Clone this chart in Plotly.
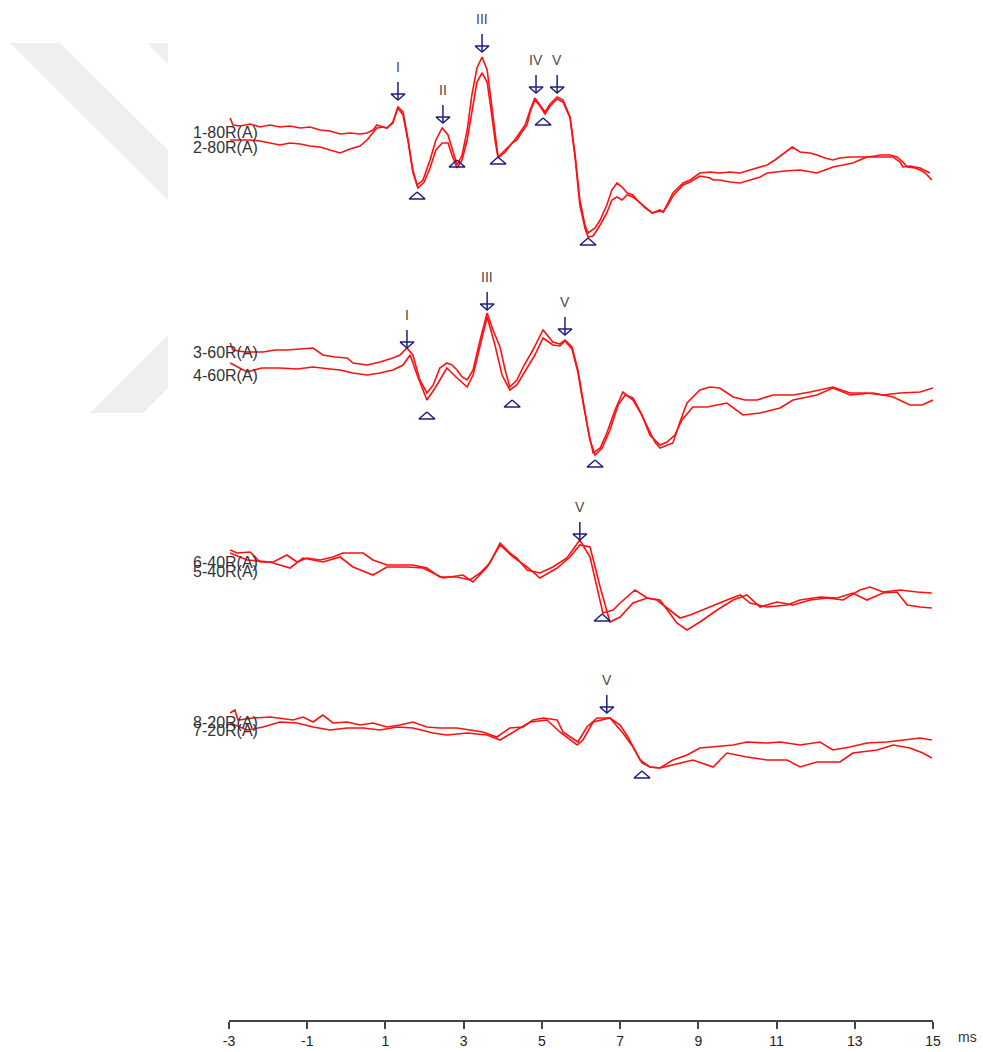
import plotly.graph_objects as go

# ---------------------------------------------------------------
# ABR recordings: latency (ms), amplitude (display units, + = up)
# ---------------------------------------------------------------
R1_A = [(-2.97, 17), (-2.90, 10), (-2.72, 9), (-2.46, 11), (-2.21, 8), (-1.95, 10), (-1.70, 8),
        (-1.44, 9), (-1.18, 7), (-0.93, 8), (-0.67, 5), (-0.42, 4), (-0.16, 1), (0.09, 2), (0.35, 1),
        (0.53, 2), (0.68, 5), (0.78, 10), (0.94, 8), (1.04, 7), (1.19, 12), (1.32, 28), (1.45, 23),
        (1.58, -5), (1.70, -35), (1.81, -50), (1.96, -45), (2.14, -25), (2.29, -5), (2.45, 7),
        (2.60, 0), (2.73, -17), (2.83, -30), (2.96, -20), (3.09, 5), (3.21, 40), (3.34, 67),
        (3.47, 78), (3.60, 65), (3.70, 35), (3.80, 0), (3.88, -22), (4.06, -15), (4.24, -8),
        (4.36, -2), (4.57, 10), (4.70, 25), (4.82, 37), (4.95, 30), (5.08, 23), (5.21, 31),
        (5.39, 38), (5.54, 35), (5.72, 18), (5.85, -20), (5.97, -65), (6.10, -90), (6.18, -98),
        (6.36, -93), (6.49, -85), (6.66, -70), (6.79, -55), (6.92, -48), (7.05, -52), (7.18, -58),
        (7.33, -60), (7.43, -65), (7.64, -72), (7.82, -78), (8.02, -75), (8.10, -77), (8.22, -68),
        (8.35, -58), (8.53, -51), (8.61, -48), (8.79, -45), (9.04, -38), (9.30, -37), (9.55, -38),
        (9.81, -37), (10.07, -38), (10.32, -35), (10.58, -32), (10.76, -30), (10.96, -25),
        (11.22, -17), (11.40, -12), (11.60, -17), (11.86, -18), (12.03, -20), (12.24, -23),
        (12.44, -25), (12.62, -23), (12.88, -22), (13.13, -22), (13.31, -22), (13.52, -21),
        (13.65, -20), (13.90, -20), (14.08, -22), (14.23, -27), (14.34, -32), (14.54, -33),
        (14.67, -35), (14.80, -38), (14.97, -45)]

R1_B = [(-2.97, -5), (-2.72, -5), (-2.46, -5), (-2.21, -6), (-1.95, -8), (-1.70, -10), (-1.44, -8),
        (-1.18, -9), (-0.93, -11), (-0.67, -12), (-0.42, -15), (-0.16, -18), (0.09, -14), (0.35, -11),
        (0.53, -5), (0.68, 2), (0.78, 7), (0.94, 8), (1.04, 7), (1.19, 13), (1.32, 27), (1.45, 20),
        (1.58, -7), (1.70, -37), (1.83, -53), (1.99, -47), (2.14, -33), (2.29, -15), (2.45, -8),
        (2.60, -8), (2.70, -20), (2.83, -33), (2.96, -25), (3.09, -5), (3.21, 25), (3.34, 53),
        (3.47, 62), (3.60, 53), (3.70, 25), (3.80, -5), (3.88, -23), (4.06, -17), (4.24, -8),
        (4.36, -5), (4.49, 3), (4.62, 10), (4.70, 23), (4.82, 35), (4.95, 29), (5.08, 21),
        (5.21, 29), (5.39, 36), (5.54, 33), (5.72, 17), (5.85, -23), (5.97, -70), (6.10, -93),
        (6.18, -102), (6.31, -101), (6.49, -90), (6.66, -78), (6.79, -65), (6.92, -62), (7.05, -65),
        (7.18, -60), (7.33, -62), (7.43, -65), (7.64, -73), (7.82, -78), (8.02, -76), (8.10, -77),
        (8.22, -70), (8.35, -61), (8.53, -53), (8.61, -50), (8.79, -47), (9.04, -41), (9.30, -43),
        (9.38, -45), (9.55, -45), (9.81, -47), (10.07, -48), (10.32, -45), (10.58, -42),
        (10.76, -38), (10.96, -37), (11.22, -36), (11.60, -35), (11.86, -37), (12.03, -38),
        (12.24, -35), (12.44, -32), (12.70, -30), (12.95, -28), (13.13, -25), (13.31, -22),
        (13.65, -22), (13.98, -22), (14.16, -27), (14.23, -32), (14.41, -31), (14.67, -33),
        (14.92, -38)]

R2_A = [(-2.97, 17), (-2.90, 10), (-2.59, 8), (-2.13, 8), (-1.82, 10), (-1.52, 10), (-1.18, 11),
        (-0.85, 12), (-0.60, 5), (-0.29, 3), (0.02, 2), (0.17, -3), (0.53, -5), (0.86, -2),
        (1.19, 2), (1.37, 5), (1.55, 12), (1.70, 5), (1.88, -20), (2.06, -33), (2.22, -25),
        (2.39, -8), (2.57, -3), (2.70, -5), (2.83, -10), (2.96, -17), (3.09, -20), (3.24, -10),
        (3.42, 20), (3.60, 47), (3.75, 30), (3.93, 13), (4.06, -10), (4.18, -27), (4.36, -20),
        (4.52, -7), (4.77, 10), (5.03, 30), (5.28, 18), (5.46, 16), (5.59, 20), (5.77, 13),
        (5.92, -10), (6.05, -40), (6.18, -70), (6.31, -93), (6.49, -88), (6.66, -73), (6.87, -50),
        (7.07, -32), (7.33, -40), (7.51, -52), (7.69, -67), (7.89, -82), (8.02, -88), (8.20, -85),
        (8.35, -83), (8.53, -62), (8.71, -43), (9.04, -30), (9.30, -27), (9.55, -28), (9.89, -37),
        (10.19, -40), (10.50, -40), (10.91, -35), (11.42, -35), (11.86, -32), (12.44, -27),
        (12.88, -33), (13.31, -33), (13.72, -35), (14.16, -33), (14.67, -32), (15.00, -28)]

R2_B = [(-2.97, -3), (-2.54, -12), (-2.16, -8), (-1.70, -8), (-1.26, -9), (-0.85, -7), (-0.42, -9),
        (-0.16, -10), (0.17, -13), (0.53, -15), (0.86, -13), (1.19, -10), (1.45, -5), (1.63, 5),
        (1.81, -15), (2.06, -40), (2.27, -28), (2.57, -8), (2.83, -18), (3.09, -27), (3.24, -15),
        (3.42, 15), (3.60, 43), (3.80, 15), (3.98, -15), (4.18, -30), (4.36, -25), (4.62, -8),
        (4.82, 5), (5.03, 22), (5.28, 15), (5.46, 14), (5.59, 19), (5.77, 11), (5.92, -12),
        (6.05, -42), (6.23, -80), (6.36, -95), (6.54, -88), (6.74, -70), (6.95, -45), (7.13, -35),
        (7.33, -38), (7.56, -55), (7.76, -75), (8.02, -85), (8.20, -82), (8.40, -75), (8.58, -60),
        (8.86, -47), (9.22, -47), (9.73, -43), (10.14, -55), (10.58, -53), (11.09, -48),
        (11.42, -40), (12.03, -35), (12.44, -28), (12.88, -35), (13.47, -33), (13.98, -37),
        (14.41, -45), (14.72, -45), (15.00, -40)]

R3_A = [(-2.97, 15), (-2.80, 12), (-2.46, 13), (-2.21, 3), (-1.87, 3), (-1.52, 10), (-1.26, 3),
        (-1.01, 7), (-0.67, 5), (-0.34, 8), (-0.09, 12), (0.17, 12), (0.43, 12), (0.68, 5),
        (1.04, 0), (1.37, 0), (1.70, 0), (2.06, -3), (2.39, -12), (2.83, -12), (3.16, -15),
        (3.42, -8), (3.67, 2), (3.93, 22), (4.18, 12), (4.36, 7), (4.62, -5), (4.95, -8),
        (5.28, -2), (5.64, 7), (5.85, 18), (5.97, 25), (6.23, 8), (6.41, -22), (6.56, -48),
        (6.82, -45), (7.00, -38), (7.38, -25), (7.69, -33), (8.02, -35), (8.20, -45), (8.45, -58),
        (8.71, -65), (9.04, -57), (9.48, -45), (9.89, -35), (10.24, -30), (10.58, -42),
        (11.01, -37), (11.42, -40), (11.86, -35), (12.29, -33), (12.70, -35), (13.13, -25),
        (13.39, -22), (13.72, -27), (14.16, -25), (14.59, -27), (14.97, -28)]

R3_B = [(-2.97, 12), (-2.54, 5), (-1.95, 3), (-1.44, -3), (-1.11, 7), (-0.60, 3), (-0.16, 8),
        (0.17, -2), (0.68, -10), (1.04, -2), (1.55, -2), (1.96, -3), (2.47, -13), (2.98, -10),
        (3.24, -17), (3.60, -2), (3.93, 20), (4.26, 8), (4.62, -2), (4.95, -13), (5.39, -3),
        (5.72, 8), (5.97, 20), (6.23, 18), (6.49, -22), (6.74, -57), (7.00, -52), (7.33, -38),
        (7.69, -33), (7.94, -35), (8.20, -43), (8.53, -53), (8.79, -50), (9.22, -43), (9.73, -35),
        (10.07, -30), (10.32, -38), (10.76, -42), (11.27, -40), (11.60, -35), (12.11, -32),
        (12.55, -33), (12.95, -28), (13.31, -35), (13.72, -28), (14.08, -27), (14.34, -40),
        (14.67, -42), (14.97, -43)]

R4_A = [(-2.97, 12), (-2.85, 15), (-2.77, 5), (-2.39, 7), (-1.95, 8), (-1.70, 7), (-1.36, 5),
        (-1.11, 8), (-0.85, 3), (-0.60, 10), (-0.34, 2), (0.02, 3), (0.35, 0), (0.68, 2),
        (1.04, -2), (1.37, 0), (1.70, 3), (2.06, -2), (2.39, -3), (2.83, -3), (3.16, -5),
        (3.49, -7), (3.85, -12), (4.18, -3), (4.52, -2), (4.77, 5), (5.03, 7), (5.39, 5),
        (5.54, -7), (5.72, -12), (5.92, -17), (6.15, -2), (6.41, 7), (6.74, 7), (7.00, 0),
        (7.20, -12), (7.38, -25), (7.51, -35), (7.76, -42), (8.02, -43), (8.35, -35), (8.71, -30),
        (9.04, -23), (9.38, -22), (9.89, -20), (10.24, -17), (10.76, -18), (11.09, -17),
        (11.60, -20), (12.11, -17), (12.44, -25), (12.88, -22), (13.31, -18), (13.82, -17),
        (14.34, -15), (14.67, -13), (14.97, -15)]

R4_B = [(-2.97, 2), (-2.54, -5), (-2.13, -2), (-1.70, 3), (-1.26, 2), (-0.85, -2), (-0.42, -5),
        (0.02, -3), (0.43, -3), (0.86, -5), (1.30, -2), (1.70, -3), (2.22, -8), (2.57, -10),
        (3.09, -8), (3.60, -10), (3.93, -15), (4.26, -7), (4.70, 3), (5.13, 5), (5.46, -7),
        (5.90, -20), (6.05, -15), (6.31, 3), (6.74, 7), (7.07, -8), (7.33, -22), (7.56, -38),
        (7.76, -42), (8.02, -43), (8.35, -40), (8.86, -35), (9.38, -42), (9.73, -28), (10.24, -32),
        (10.76, -35), (11.27, -35), (11.60, -42), (12.03, -37), (12.62, -37), (12.95, -28),
        (13.57, -25), (13.98, -20), (14.41, -23), (14.74, -28), (14.97, -33)]

# Wave peaks (name, latency, amplitude) and troughs (latency, amplitude)
R1_PEAKS = [("I", 1.32, 35), ("II", 2.47, 12), ("III", 3.47, 83), ("IV", 4.85, 42), ("V", 5.39, 42)]
R1_TROUGHS = [(1.81, -57), (2.83, -25), (3.88, -22), (5.03, 17), (6.18, -103)]
R2_PEAKS = [("I", 1.55, 12), ("III", 3.60, 50), ("V", 5.59, 25)]
R2_TROUGHS = [(2.06, -52), (4.24, -40), (6.36, -100)]
R3_PEAKS = [("V", 5.97, 25)]
R3_TROUGHS = [(6.54, -49)]
R4_PEAKS = [("V", 6.66, 12)]
R4_TROUGHS = [(7.56, -46)]

TRACE_NAMES = [("1-80R(A)", "2-80R(A)"), ("3-60R(A)", "4-60R(A)"),
               ("6-40R(A)", "5-40R(A)"), ("8-20R(A)", "7-20R(A)")]

X_TICKS = [-3, -1, 1, 3, 5, 7, 9, 11, 13, 15]

# ---------------------------------------------------------------
# Layout helpers
# ---------------------------------------------------------------
W, H = 983, 1052
ML, MR, MT, MB = 229, 50, 0, 32
PLOT_W = W - ML - MR
PLOT_H = H - MT - MB
X0, X1 = -3, 15
PX_PER_MS = PLOT_W / (X1 - X0)

ROW_OFFSETS = [135, 360, 565, 725]          # vertical slot of each row (display units)
LABEL_DY = [(3, -12), (8, -15), (3, -6), (3, -5)]

WAVE_RED = "#ff1010"
MARK_BLUE = "#1e1e80"

rows = [
    (R1_A, R1_B, R1_PEAKS, R1_TROUGHS),
    (R2_A, R2_B, R2_PEAKS, R2_TROUGHS),
    (R3_A, R3_B, R3_PEAKS, R3_TROUGHS),
    (R4_A, R4_B, R4_PEAKS, R4_TROUGHS),
]

fig = go.Figure()
annotations = []


def dx(px):
    return px / PX_PER_MS


for r, (wa, wb, peaks, troughs) in enumerate(rows):
    off = ROW_OFFSETS[r]
    for wave in (wa, wb):
        fig.add_trace(go.Scatter(
            x=[p[0] for p in wave], y=[p[1] - off for p in wave],
            mode="lines", line=dict(color=WAVE_RED, width=1.6),
            hoverinfo="skip", showlegend=False))

    # peak arrows: stem + downward open triangle
    ax, ay = [], []
    for name, lat, amp in peaks:
        tip = amp - off
        ax += [lat, lat, None, lat - dx(7), lat + dx(7), lat, lat - dx(7), None]
        ay += [tip + 18, tip, None, tip + 6, tip + 6, tip, tip + 6, None]
        annotations.append(dict(x=lat, y=tip + 33, text=name, showarrow=False,
                                xanchor="center", yanchor="middle",
                                font=dict(family="Arial", size=14, color="#4a4a4a")))
    # trough markers: upward open triangle
    for lat, amp in troughs:
        top = amp - off
        ax += [lat, lat + dx(8), lat - dx(8), lat, None]
        ay += [top, top - 7, top - 7, top, None]
    fig.add_trace(go.Scatter(x=ax, y=ay, mode="lines",
                             line=dict(color=MARK_BLUE, width=1.5),
                             hoverinfo="skip", showlegend=False))

    # recording names at the left of each row
    for k in range(2):
        annotations.append(dict(x=X0, y=LABEL_DY[r][k] - off, text=TRACE_NAMES[r][k],
                                showarrow=False, xanchor="left", yanchor="middle", xshift=-38,
                                font=dict(family="Arial", size=16, color="#333333")))

annotations.append(dict(x=X1, y=0, yref="paper", text="ms", showarrow=False,
                        xanchor="center", yanchor="middle", xshift=34, yshift=-17,
                        font=dict(family="Arial", size=14, color="#333333")))


# faint background chevron
def to_paper(px, py):
    return (px - ML) / PLOT_W, (H - MB - py) / PLOT_H


def poly(points):
    pts = [to_paper(*p) for p in points]
    return "M " + " L ".join(f"{x:.4f},{y:.4f}" for x, y in pts) + " Z"


bg_shapes = []
for pts in ([(10, 43), (60, 43), (168, 150), (168, 200)],
            [(147, 43), (168, 43), (168, 64)],
            [(90, 413), (143, 413), (168, 388), (168, 335)]):
    bg_shapes.append(dict(type="path", path=poly(pts), xref="paper", yref="paper",
                          fillcolor="#efefef", line=dict(width=0), layer="below"))

fig.update_layout(
    width=W, height=H,
    margin=dict(l=ML, r=MR, t=MT, b=MB),
    paper_bgcolor="white", plot_bgcolor="white",
    showlegend=False,
    shapes=bg_shapes,
    annotations=annotations,
    xaxis=dict(range=[X0, X1], tickmode="array", tickvals=X_TICKS,
               ticktext=[str(t) for t in X_TICKS],
               showgrid=False, zeroline=False, showline=True,
               linecolor="#444444", linewidth=1.6,
               ticks="outside", ticklen=7, tickwidth=1.5, tickcolor="#444444",
               tickfont=dict(family="Arial", size=14, color="#222222"),
               fixedrange=True),
    yaxis=dict(range=[-PLOT_H, 0], visible=False, fixedrange=True),
)

fig.write_html("out.html")
